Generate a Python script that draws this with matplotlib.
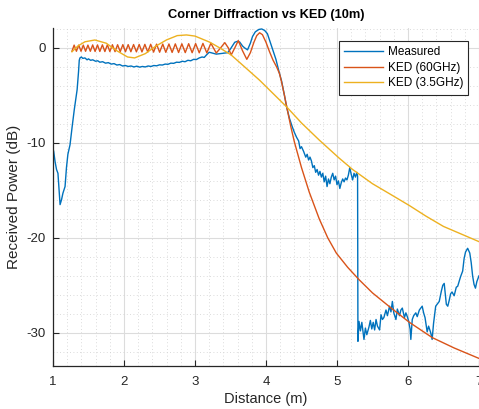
import matplotlib
matplotlib.use('Agg')
import matplotlib.pyplot as plt
from matplotlib.ticker import MultipleLocator

plt.rcParams['font.family'] = ['Liberation Sans', 'DejaVu Sans']
plt.rcParams['axes.unicode_minus'] = False

# --- data ---
meas_x = [1.00, 1.01, 1.03, 1.05, 1.07, 1.09, 1.10, 1.12, 1.14, 1.17, 1.19, 1.21, 1.24, 1.27, 1.30,
          1.34, 1.36, 1.37, 1.38, 1.40, 1.42, 1.45, 1.48, 1.50, 1.53, 1.56, 1.60, 1.63, 1.66, 1.70,
          1.74, 1.78, 1.82, 1.86, 1.90, 1.94, 1.98, 2.02, 2.06, 2.10, 2.14, 2.18, 2.22, 2.26, 2.30,
          2.34, 2.38, 2.42, 2.46, 2.50, 2.54, 2.58, 2.62, 2.66, 2.70, 2.74, 2.78, 2.82, 2.86, 2.90,
          2.94, 2.98, 3.02, 3.06, 3.10, 3.13, 3.16, 3.20, 3.25, 3.30, 3.35, 3.40, 3.46, 3.50, 3.56,
          3.60, 3.63, 3.67, 3.70, 3.74, 3.78, 3.81, 3.85, 3.90, 3.94, 3.98, 4.02, 4.06, 4.10, 4.14,
          4.18, 4.22, 4.26, 4.29, 4.33, 4.37, 4.40, 4.43, 4.46, 4.48, 4.50, 4.53, 4.56, 4.58, 4.60,
          4.62, 4.64, 4.66, 4.68, 4.70, 4.72, 4.74, 4.76, 4.78, 4.80, 4.82, 4.84, 4.86, 4.88, 4.90,
          4.92, 4.94, 4.96, 4.98, 5.00, 5.02, 5.04, 5.06, 5.08, 5.10, 5.12, 5.14, 5.16, 5.18, 5.20,
          5.22, 5.24, 5.26, 5.28, 5.29, 5.295, 5.31, 5.33, 5.35, 5.38, 5.40, 5.42, 5.45, 5.47, 5.49,
          5.51, 5.53, 5.55, 5.57, 5.60, 5.62, 5.64, 5.66, 5.69, 5.71, 5.74, 5.76, 5.78, 5.80, 5.83,
          5.85, 5.88, 5.90, 5.92, 5.95, 5.97, 5.99, 6.01, 6.03, 6.04, 6.06, 6.08, 6.11, 6.13, 6.16,
          6.18, 6.20, 6.22, 6.24, 6.27, 6.29, 6.32, 6.34, 6.36, 6.39, 6.42, 6.44, 6.47, 6.49, 6.51,
          6.54, 6.56, 6.58, 6.60, 6.62, 6.65, 6.68, 6.70, 6.72, 6.74, 6.77, 6.79, 6.81, 6.84, 6.87,
          6.89, 6.91, 6.93, 6.95, 6.97, 7.00]
meas_y = [-10.6, -10.9, -12.0, -12.8, -13.2, -15.5, -16.5, -16.0, -15.3, -14.6, -12.6, -11.2, -10.2, -8.3, -6.5,
          -4.4, -2.5, -1.3, -1.05, -0.95, -1.10, -1.05, -1.25, -1.15, -1.30, -1.25, -1.40, -1.35, -1.50, -1.45,
          -1.60, -1.55, -1.70, -1.65, -1.80, -1.75, -1.90, -1.85, -1.95, -1.90, -2.00, -1.92, -2.02, -1.95, -2.00,
          -1.90, -1.95, -1.85, -1.88, -1.78, -1.80, -1.70, -1.72, -1.60, -1.62, -1.50, -1.52, -1.40, -1.45, -1.30,
          -1.35, -1.20, -1.22, -1.05, -0.95, -1.00, -0.75, -0.45, -0.55, -0.65, -0.60, -0.55, -0.50, -0.10, 0.60,
          0.70, 0.62, 0.20, 0.00, -0.20, 0.50, 1.20, 1.70, 1.95, 2.00, 1.85, 1.50, 0.60, -0.30, -1.20,
          -2.40, -3.50, -5.00, -6.20, -7.40, -8.30, -8.90, -9.40, -9.80, -10.6, -10.4, -10.9, -11.5, -11.2, -11.8,
          -11.5, -11.9, -12.6, -12.4, -13.1, -12.8, -13.4, -13.0, -13.6, -13.2, -14.1, -13.5, -14.6, -13.8, -14.3,
          -13.6, -13.2, -13.9, -13.5, -14.4, -14.0, -14.8, -14.2, -13.8, -14.1, -13.7, -13.9, -13.4, -12.6, -13.3,
          -13.9, -13.2, -13.6, -13.1, -13.5, -30.9, -28.8, -29.8, -28.9, -30.7, -29.5, -30.2, -29.4, -28.7, -29.6,
          -28.9, -29.7, -28.6, -29.3, -29.7, -28.1, -28.6, -28.4, -27.6, -28.2, -27.2, -27.8, -26.7, -27.9, -28.6,
          -27.5, -28.2, -27.6, -27.4, -28.4, -27.9, -28.3, -28.8, -29.6, -30.7, -28.6, -28.2, -27.9, -28.3, -27.6,
          -27.4, -27.2, -27.9, -28.4, -29.9, -29.3, -30.0, -30.7, -29.0, -27.2, -26.9, -26.7, -25.6, -25.0, -24.8,
          -27.0, -27.2, -26.6, -25.9, -25.7, -26.1, -25.2, -25.1, -24.6, -24.1, -23.5, -22.2, -21.5, -21.1, -21.6,
          -22.6, -24.0, -24.9, -25.3, -24.6, -24.0]

ked60_x = [1.267, 1.298, 1.330, 1.363, 1.395, 1.427, 1.459, 1.492, 1.526, 1.559, 1.593, 1.627, 1.660,
           1.696, 1.731, 1.766, 1.801, 1.837, 1.874, 1.910, 1.947, 1.984, 2.021, 2.059, 2.097, 2.135,
           2.175, 2.214, 2.253, 2.294, 2.335, 2.376, 2.417, 2.459, 2.502, 2.546, 2.589, 2.633, 2.678,
           2.723, 2.769, 2.815, 2.863, 2.911, 2.960, 3.009, 3.060, 3.112, 3.167, 3.224, 3.26, 3.30,
           3.36, 3.42, 3.47, 3.51, 3.56, 3.61, 3.67, 3.73, 3.78, 3.83, 3.87, 3.91, 3.95, 4.00, 4.05,
           4.10, 4.15, 4.19, 4.22, 4.26, 4.30, 4.35, 4.40, 4.50, 4.61, 4.75, 4.87, 4.99, 5.15, 5.31,
           5.50, 5.78, 6.02, 6.34, 6.65, 7.00]
ked60_y = [-0.35, 0.30, -0.35, 0.30, -0.35, 0.30, -0.35, 0.30, -0.35, 0.32, -0.37, 0.32, -0.37,
           0.33, -0.38, 0.33, -0.38, 0.34, -0.39, 0.34, -0.39, 0.35, -0.40, 0.35, -0.40, 0.36,
           -0.41, 0.37, -0.42, 0.38, -0.43, 0.39, -0.44, 0.40, -0.45, 0.41, -0.46, 0.42, -0.47,
           0.43, -0.48, 0.44, -0.49, 0.45, -0.50, 0.46, -0.51, 0.48, -0.52, 0.50, 0.0, -0.53,
           0.0, 0.56, 0.0, -0.74, 0.0, 0.77, -0.30, -1.20, -0.50, 0.60, 1.30, 1.60, 1.40, 0.60, -0.40,
           -1.30, -2.00, -2.70, -3.60, -5.00, -6.50, -8.30, -9.90, -12.6, -15.2, -18.0, -20.0, -21.6, -23.1, -24.4,
           -25.8, -27.5, -28.9, -30.5, -31.6, -32.7]

ked35_x = [1.267, 1.35, 1.45, 1.59, 1.75, 1.90, 2.05, 2.15, 2.30, 2.45, 2.60, 2.75, 2.88, 3.00,
           3.13, 3.21, 3.35, 3.51, 3.67, 3.91, 4.10, 4.29, 4.50, 4.75, 5.03, 5.22, 5.50, 5.75,
           6.02, 6.25, 6.50, 6.75, 7.00]
ked35_y = [-0.4, 0.2, 0.65, 0.84, 0.50, -0.30, -0.95, -1.05, -0.60, 0.20, 0.85, 1.30, 1.37, 1.25,
           0.85, 0.60, 0.0, -0.74, -1.8, -3.4, -4.8, -6.2, -7.9, -9.7, -11.6, -12.8, -14.3, -15.4,
           -16.6, -17.7, -18.8, -19.6, -20.4]

fig = plt.figure(figsize=(4.79, 4.09), dpi=100)
ax = fig.add_axes([0.1106, 0.1051, 0.8894, 0.8264])

ax.plot(meas_x, meas_y, color='#0072BD', linewidth=1.0, label='Measured')
ax.plot(ked60_x, ked60_y, color='#D95319', linewidth=1.0, label='KED (60GHz)')
ax.plot(ked35_x, ked35_y, color='#EDB120', linewidth=1.0, label='KED (3.5GHz)')

ax.set_xlim(1, 7)
ax.set_ylim(-33.5, 2.1)
ax.xaxis.set_major_locator(MultipleLocator(1))
ax.xaxis.set_minor_locator(MultipleLocator(0.2))
ax.yaxis.set_major_locator(MultipleLocator(10))
ax.yaxis.set_minor_locator(MultipleLocator(2))

ax.grid(which='major', color='#dcdcdc', linewidth=0.8)
ax.grid(which='minor', color='#cfcfcf', linestyle=(0, (1, 3)), linewidth=0.6)
ax.set_axisbelow(True)

for side in ['top', 'right']:
    ax.spines[side].set_visible(False)
for side in ['left', 'bottom']:
    ax.spines[side].set_color('#262626')
    ax.spines[side].set_linewidth(0.9)

ax.tick_params(which='major', direction='in', length=4, width=0.8, colors='#262626',
               labelsize=9.5)
ax.tick_params(axis='x', which='major', pad=7)
ax.tick_params(axis='y', which='major', pad=5)
ax.tick_params(which='minor', direction='in', length=0)

ax.set_title('Corner Diffraction vs KED (10m)', fontsize=9.3, fontweight='bold', pad=7)
ax.set_xlabel('Distance (m)', fontsize=10.5, color='#262626', labelpad=3)
ax.set_ylabel('Received Power (dB)', fontsize=11, color='#262626', labelpad=4)

leg = ax.legend(loc='upper right', bbox_to_anchor=(0.975, 0.962), fontsize=8.5,
                handlelength=3.3, handletextpad=0.35, fancybox=False, framealpha=1,
                edgecolor='#262626', borderpad=0.45, labelspacing=0.3, borderaxespad=0)
leg.get_frame().set_linewidth(0.8)

fig.savefig('out.png', dpi=100)
